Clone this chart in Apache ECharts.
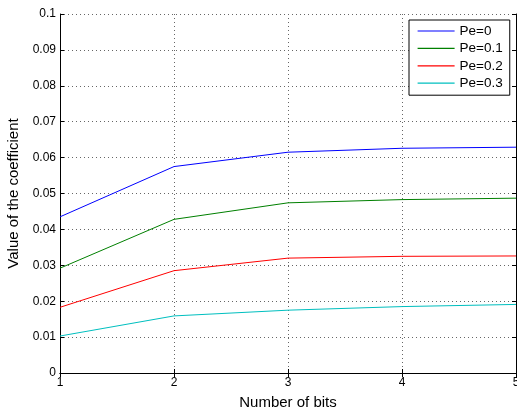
<!DOCTYPE html>
<html>
<head>
<meta charset="utf-8">
<script src="https://cdn.jsdelivr.net/npm/echarts@6/dist/echarts.min.js"></script>
<style>
  html, body { margin: 0; padding: 0; background: #fff; }
  #chart { width: 517px; height: 413px; }
</style>
</head>
<body>
<div id="chart"></div>
<script>
// Number of quantization bits on the x axis
const bits = [1, 2, 3, 4, 5];

// Coefficient values for each error probability Pe
const pe0  = [0.0435, 0.0575, 0.0615, 0.0626, 0.0629];
const pe01 = [0.0292, 0.0428, 0.0474, 0.0483, 0.0487];
const pe02 = [0.0183, 0.0285, 0.0320, 0.0325, 0.0326];
const pe03 = [0.0103, 0.0159, 0.0175, 0.0185, 0.0191];

const seriesNames = ['Pe=0', 'Pe=0.1', 'Pe=0.2', 'Pe=0.3'];
const seriesValues = [pe0, pe01, pe02, pe03];
const seriesColors = ['#0000ff', '#008000', '#ff0000', '#00bfbf'];

const FONT = 'Liberation Sans, Arial, Helvetica, sans-serif';

const frameAxis = {
  axisLine: { show: true, lineStyle: { color: '#000', width: 1 } },
  axisTick: { show: true, inside: true, length: 4, lineStyle: { color: '#000' } },
};

const chart = echarts.init(document.getElementById('chart'), null, { renderer: 'canvas' });

chart.setOption({
  backgroundColor: '#fff',
  animation: false,
  grid: { left: 60, right: 1, top: 14, bottom: 40, outerBoundsMode: 'none', containLabel: false },
  legend: {
    orient: 'vertical',
    left: 409,
    top: 20,
    backgroundColor: '#fff',
    borderColor: '#000',
    borderWidth: 1,
    borderRadius: 0,
    padding: [4, 7, 5, 8],
    itemWidth: 37,
    itemHeight: 14,
    itemGap: 3.4,
    itemStyle: { opacity: 0 },
    lineStyle: { width: 1.2 },
    textStyle: { fontFamily: FONT, fontSize: 13.5, color: '#000' },
    data: seriesNames,
  },
  xAxis: [
    {
      type: 'value', min: 1, max: 5, interval: 1,
      name: 'Number of bits', nameLocation: 'middle', nameGap: 22,
      nameTextStyle: { fontFamily: FONT, fontSize: 15, color: '#000' },
      axisLabel: { fontFamily: FONT, fontSize: 12, color: '#000', margin: 4 },
      splitLine: { show: true, lineStyle: { color: '#666', type: [1, 3], width: 1 } },
      ...frameAxis,
    },
    {
      type: 'value', min: 1, max: 5, interval: 1, position: 'top',
      axisLabel: { show: false }, splitLine: { show: false },
      ...frameAxis,
    },
  ],
  yAxis: [
    {
      type: 'value', min: 0, max: 0.1, interval: 0.01,
      name: 'Value of the coefficient', nameLocation: 'middle', nameGap: 36,
      nameTextStyle: { fontFamily: FONT, fontSize: 15, color: '#000' },
      axisLabel: {
        fontFamily: FONT, fontSize: 12, color: '#000', margin: 4,
        formatter: v => String(parseFloat(v.toFixed(2))),
      },
      splitLine: { show: true, lineStyle: { color: '#666', type: [1, 3], width: 1 } },
      ...frameAxis,
    },
    {
      type: 'value', min: 0, max: 0.1, interval: 0.01, position: 'right',
      axisLabel: { show: false }, splitLine: { show: false },
      ...frameAxis,
    },
  ],
  series: seriesNames.map((name, i) => ({
    name,
    type: 'line',
    symbol: 'none',
    data: bits.map((b, j) => [b, seriesValues[i][j]]),
    lineStyle: { color: seriesColors[i], width: 1 },
    itemStyle: { color: seriesColors[i] },
  })),
});
</script>
</body>
</html>
